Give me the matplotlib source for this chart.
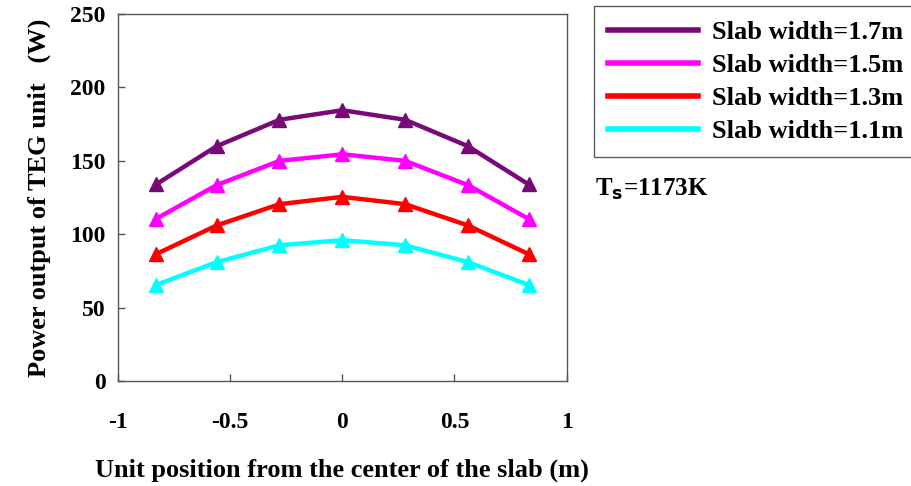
import matplotlib
matplotlib.use('Agg')
import matplotlib.pyplot as plt

# unit positions and power output (W) for each slab width
x = [-0.83, -0.56, -0.28, 0, 0.28, 0.56, 0.83]
p17 = [134, 160, 178, 184.5, 178, 160, 134]
p15 = [110.5, 133.5, 150, 154.5, 150, 133.5, 110.5]
p13 = [86.5, 106, 120.5, 125.5, 120.5, 106, 86.5]
p11 = [65.5, 81, 92.5, 96, 92.5, 81, 65.5]
labels = ['Slab width=1.7m', 'Slab width=1.5m', 'Slab width=1.3m', 'Slab width=1.1m']
colors = ['#780A78', '#FF00FF', '#FF0000', '#00FFFF']

plt.rcParams['font.family'] = ['Liberation Serif', 'DejaVu Serif']
plt.rcParams['font.weight'] = 'bold'

fig = plt.figure(figsize=(9.11, 4.86), dpi=100)
ax = fig.add_axes([0.1295, 0.216, 0.4925, 0.755])

for ys, lab, c in zip([p17, p15, p13, p11], labels, colors):
    ax.plot(x, ys, color=c, lw=3.2, marker='^', ms=10, label=lab)

ax.set_xlim(-1, 1)
ax.set_ylim(0, 250)
ax.set_xticks([-1, -0.5, 0, 0.5, 1])
ax.set_xticklabels(['-1', '-0.5', '0', '0.5', '1'])
ax.set_yticks([0, 50, 100, 150, 200, 250])
ax.tick_params(direction='in', length=5, width=1, labelsize=17, color='#555555')
ax.tick_params(axis='x', pad=22)
ax.tick_params(axis='y', pad=9)
for s in ax.spines.values():
    s.set_color('#555555')
    s.set_linewidth(1)

ax.set_xlabel('Unit position from the center of the slab (m)', fontsize=19, fontweight='bold', labelpad=19)
ax.set_ylabel('Power output of TEG unit   (W)', fontsize=19, fontweight='bold', labelpad=14)

leg = ax.legend(loc='upper left', bbox_to_anchor=(1.06, 1.022), frameon=True,
                fancybox=False, edgecolor='#333333', handlelength=3.4, handletextpad=0.55,
                borderpad=0.55, labelspacing=0.36, borderaxespad=0,
                prop={'weight': 'bold', 'size': 19})
for h in leg.get_lines():
    h.set_marker('')
    h.set_linewidth(4)
leg.get_frame().set_linewidth(1)

fig.text(0.653, 0.598, r'T$_\mathbf{s}$=1173K', fontsize=18, fontweight='bold')

fig.savefig('out.png', dpi=100)
